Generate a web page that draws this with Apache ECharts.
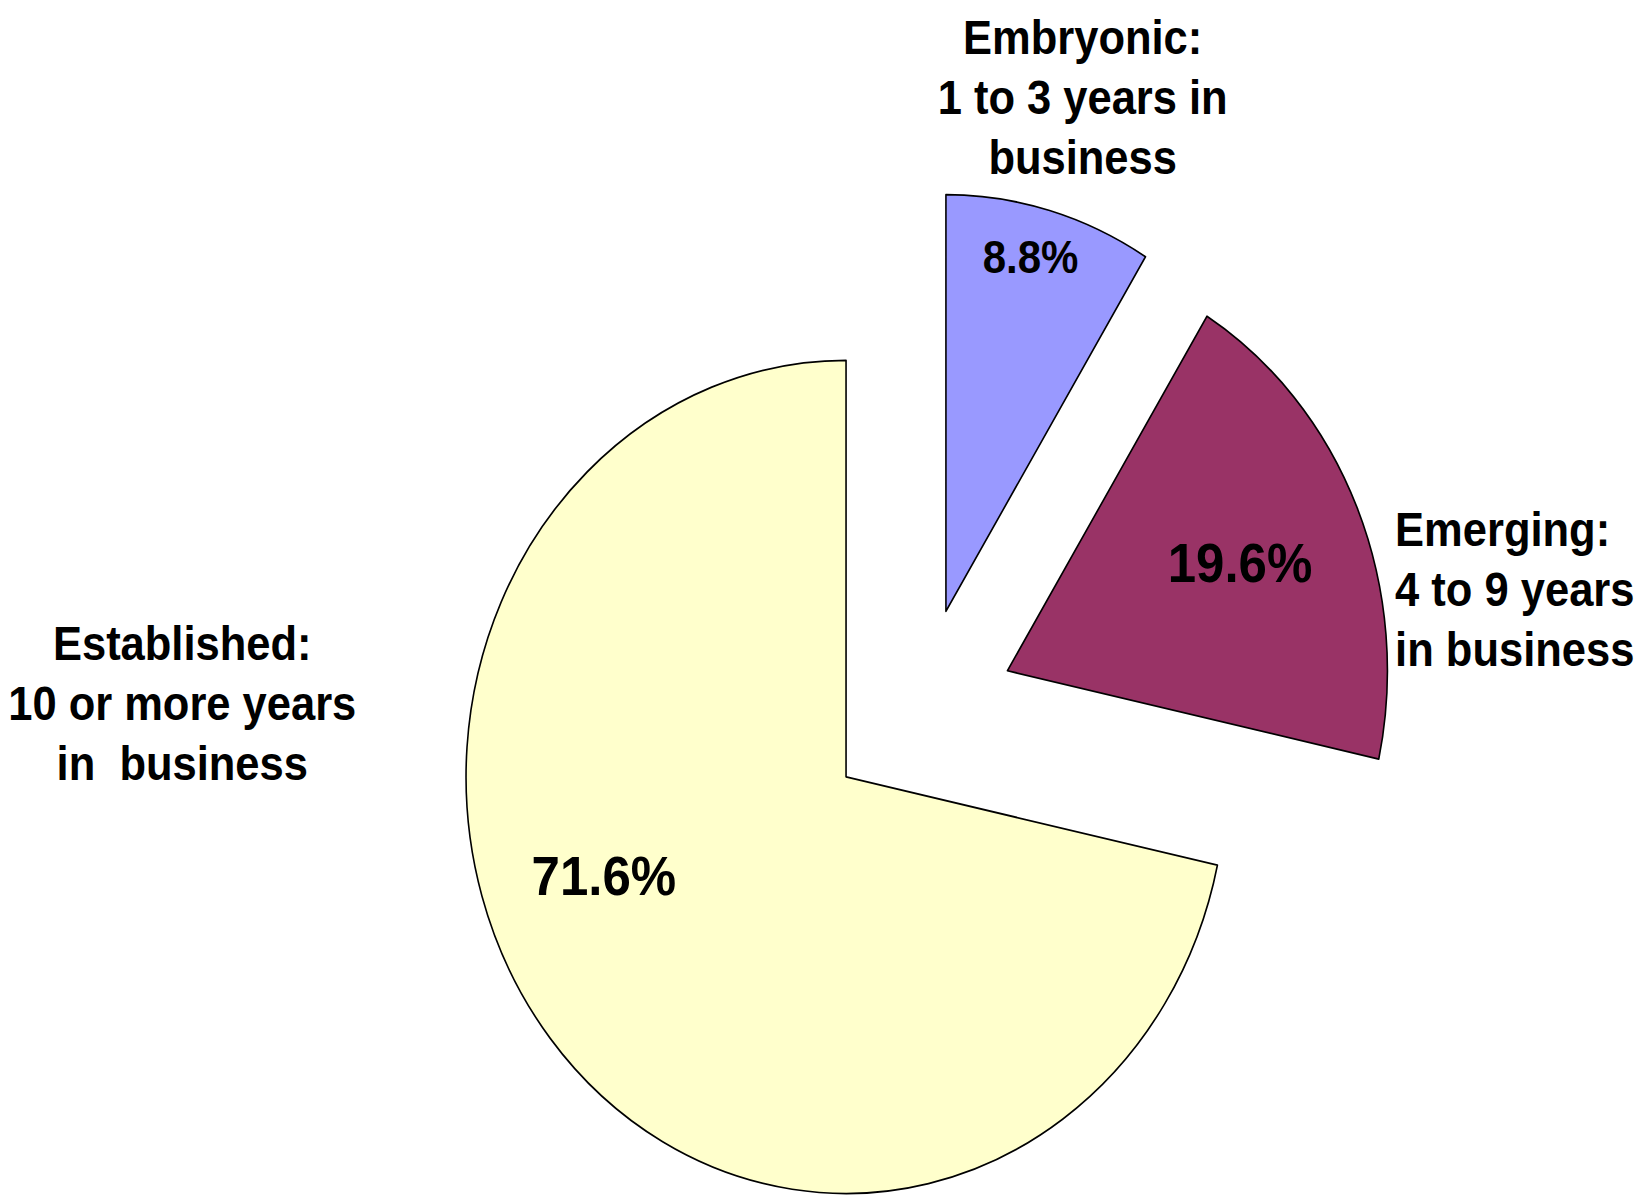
<!DOCTYPE html>
<html><head><meta charset="utf-8">
<script src="https://cdn.jsdelivr.net/npm/echarts@6/dist/echarts.min.js"></script>
<style>
html,body{margin:0;padding:0;background:#fff;overflow:hidden;}
#wrap{width:1647px;height:1195px;overflow:hidden;}
#c{width:1647px;height:1090px;transform:scaleY(1.0963);transform-origin:0 0;}
</style>
</head><body><div id="wrap"><div id="c"></div></div>
<script>
// Data
const categories = ['Embryonic:\n1 to 3 years in\nbusiness', 'Emerging:\n4 to 9 years\nin business', 'Established:\n10 or more years\nin  business'];
const shares = [8.8, 19.6, 71.6];

// Styles / layout
const colors = ['#9999FF', '#993366', '#FFFFCC'];
const pctShift = [[32, -138], [55, -23], [-92, -31]];
const pctSize = [42, 51, 51];
const nameShift = [[33, -103], [38, 75], [-368, -305]];
const nameAlign = ['center', 'left', 'center'];
const FONT = '"Liberation Sans", Arial, sans-serif';

const chart = echarts.init(document.getElementById('c'), null, {renderer: 'svg'});
const common = {
  type: 'pie',
  center: [920, 649],
  radius: 380,
  startAngle: 90,
  clockwise: true,
  selectedMode: 'multiple',
  selectedOffset: 95,
  avoidLabelOverlap: false,
  animation: false,
  silent: true,
  emphasis: {disabled: true}
};
chart.setOption({
  backgroundColor: '#ffffff',
  animation: false,
  series: [
    Object.assign({}, common, {
      name: 'slices',
      itemStyle: {borderColor: '#000', borderWidth: 1.6},
      label: {
        show: true, position: 'inside', color: '#000', fontWeight: 'bold', fontFamily: FONT,
        formatter: p => p.value.toFixed(1) + '%'
      },
      labelLine: {show: false},
      labelLayout: p => ({dx: pctShift[p.dataIndex][0], dy: pctShift[p.dataIndex][1]}),
      data: shares.map((v, i) => ({
        value: v, name: categories[i], selected: true,
        itemStyle: {color: colors[i]},
        label: {fontSize: pctSize[i]}
      }))
    }),
    Object.assign({}, common, {
      name: 'names',
      itemStyle: {color: 'rgba(0,0,0,0)', borderWidth: 0},
      label: {
        show: true, position: 'outside', color: '#000', fontWeight: 'bold', fontFamily: FONT,
        fontSize: 43.5, lineHeight: 55, formatter: '{b}', distanceToLabelLine: 0
      },
      labelLine: {show: false, length: 0, length2: 0},
      labelLayout: p => ({dx: nameShift[p.dataIndex][0], dy: nameShift[p.dataIndex][1], align: nameAlign[p.dataIndex], verticalAlign: 'middle'}),
      data: shares.map((v, i) => ({value: v, name: categories[i], selected: true}))
    })
  ]
});
</script></body></html>
